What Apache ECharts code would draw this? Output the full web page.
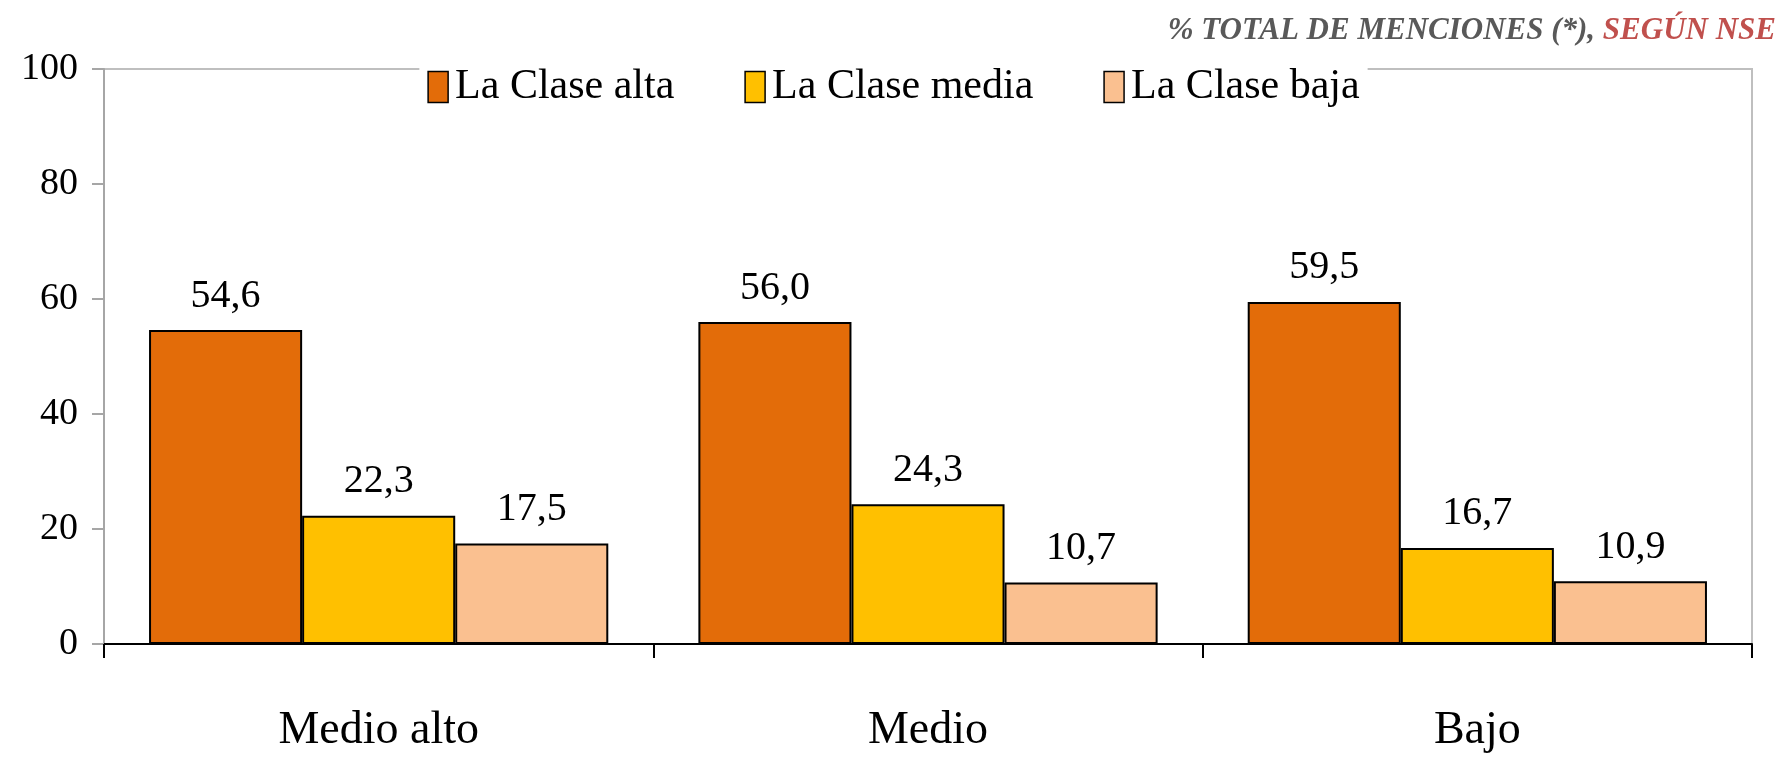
<!DOCTYPE html>
<html>
<head>
<meta charset="utf-8">
<script src="https://cdn.jsdelivr.net/npm/echarts@6/dist/echarts.min.js"></script>
<style>
html,body{margin:0;padding:0;background:#fff;}
#chart{width:1787px;height:764px;}
</style>
</head>
<body>
<div id="chart"></div>
<script>
const categories = ['Medio alto', 'Medio', 'Bajo'];
const seriesNames = ['La Clase alta', 'La Clase media', 'La Clase baja'];
const claseAlta = [54.6, 56.0, 59.5];
const claseMedia = [22.3, 24.3, 16.7];
const claseBaja = [17.5, 10.7, 10.9];
const yTicks = [0, 20, 40, 60, 80, 100];

const FONT = "'Liberation Serif', 'DejaVu Serif', serif";
const colors = ['#E36C09', '#FFC000', '#FAC090'];
const values = [claseAlta, claseMedia, claseBaja];

const chart = echarts.init(document.getElementById('chart'));
chart.setOption({
  animation: false,
  backgroundColor: '#fff',
  title: {
    text: '{a|% TOTAL DE MENCIONES (*), }{b|SEGÚN NSE}',
    right: 6,
    top: 10,
    textStyle: {
      rich: {
        a: {fontFamily: FONT, fontSize: 31, fontWeight: 'bold', fontStyle: 'italic', color: '#595959'},
        b: {fontFamily: FONT, fontSize: 31, fontWeight: 'bold', fontStyle: 'italic', color: '#C0504D'}
      }
    }
  },
  legend: {
    data: seriesNames,
    top: 62,
    left: 'center',
    icon: 'rect',
    itemWidth: 20,
    itemHeight: 31,
    itemGap: 70,
    backgroundColor: '#fff',
    padding: [4, 8],
    textStyle: {fontFamily: FONT, fontSize: 42, color: '#000', padding: [0, 0, 0, 2]},
    itemStyle: {borderColor: '#000', borderWidth: 1.5}
  },
  grid: {
    left: 104, right: 35, top: 69, bottom: 120,
    show: true, borderColor: '#BFBFBF', borderWidth: 2, backgroundColor: 'transparent'
  },
  xAxis: {
    type: 'category',
    data: categories,
    axisLine: {lineStyle: {color: '#000', width: 2}},
    axisTick: {show: true, length: 14, lineStyle: {color: '#000', width: 2}},
    axisLabel: {fontFamily: FONT, fontSize: 46, color: '#000', margin: 64}
  },
  yAxis: {
    type: 'value',
    min: yTicks[0],
    max: yTicks[yTicks.length - 1],
    interval: 20,
    splitLine: {show: false},
    axisLine: {show: true, lineStyle: {color: '#A6A6A6', width: 2}},
    axisTick: {show: true, length: 12, lineStyle: {color: '#A6A6A6', width: 2}},
    axisLabel: {fontFamily: FONT, fontSize: 38, color: '#000', margin: 26}
  },
  series: seriesNames.map((name, i) => ({
    name: name,
    type: 'bar',
    data: values[i],
    barGap: '0%',
    barCategoryGap: '16.4%',
    itemStyle: {color: colors[i], borderColor: '#000', borderWidth: 2},
    label: {
      show: true,
      position: 'top',
      distance: 14,
      fontFamily: FONT,
      fontSize: 40,
      color: '#000',
      formatter: p => p.value.toFixed(1).replace('.', ',')
    }
  }))
});
</script>
</body>
</html>
